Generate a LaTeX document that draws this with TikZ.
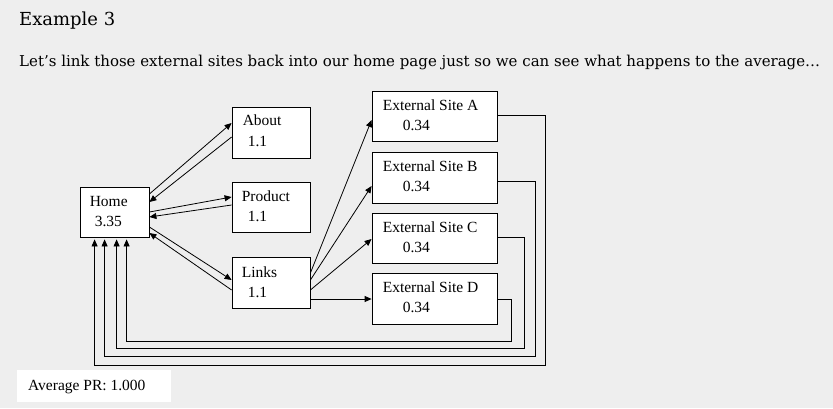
\documentclass[tikz,border=0pt]{standalone}
\usepackage{fontspec}
\setmainfont{Liberation Serif}
\newfontfamily\headfont{DejaVu Serif}
\usetikzlibrary{calc,arrows.meta}
\definecolor{bg}{RGB}{238,238,238}
\begin{document}
\begin{tikzpicture}[x=1pt,y=-1pt,
  box/.style={draw=black, line width=0.8pt, fill=white, inner sep=0pt, minimum width=78pt, minimum height=51pt},
  extbox/.style={box, minimum width=125pt},
  lbl/.style={anchor=base west, inner sep=0pt, font=\fontsize{15.5}{18}\selectfont},
  conn/.style={line width=0.8pt, -{Triangle[length=7pt,width=6pt]}},
  fb/.style={line width=0.8pt, -{Triangle[length=7pt,width=6pt]}, rounded corners=0pt}]
\fill[bg] (0,0) rectangle (833,408);
\useasboundingbox (0,0) rectangle (833,408);

% heading
\node[anchor=base west, inner sep=0pt] (title) at (19,25) {\resizebox{96pt}{!}{\headfont Example 3}};
\node[anchor=base west, inner sep=0pt] (sub) at (19,66) {\resizebox{801pt}{!}{\headfont Let’s link those external sites back into our home page just so we can see what happens to the average…}};

% boxes
\node[box, minimum width=69pt, minimum height=50pt] (home) at (114.5,212) {};
\node[box] (about) at (271,132.5) {};
\node[box, minimum height=50pt] (product) at (271,207) {};
\node[box] (links) at (271,282.5) {};
\node[extbox, minimum height=50pt] (A) at (434.5,116) {};
\node[extbox] (B) at (434.5,177.5) {};
\node[extbox, minimum height=50pt] (C) at (434.5,238) {};
\node[extbox] (D) at (434.5,298.5) {};

% labels
\node[lbl] (homet) at ($(home.north west)+(10,20)$) {Home};
\node[lbl] (homev) at ($(home.north west)+(15,40)$) {3.35};
\node[lbl] (aboutt) at ($(about.north west)+(11,19)$) {About};
\node[lbl] (aboutv) at ($(about.north west)+(16,40)$) {1.1};
\node[lbl] (productt) at ($(product.north west)+(10,20)$) {Product};
\node[lbl] (productv) at ($(product.north west)+(16,40)$) {1.1};
\node[lbl] (linkst) at ($(links.north west)+(10,21)$) {Links};
\node[lbl] (linksv) at ($(links.north west)+(16,41)$) {1.1};
\foreach \n/\l in {A/A,B/B,C/C,D/D}{
  \node[lbl] (\n t) at ($(\n.north west)+(11,19.5)$) {External Site \l};
  \node[lbl] (\n v) at ($(\n.north west)+(31,40)$) {0.34};
}

% home <-> internal pages
\draw[conn] ($(home.east)+(0,-18)$) -- ($(about.west)+(0,-9.5)$);
\draw[conn] ($(about.west)+(0,4.5)$) -- ($(home.east)+(0,-10)$);
\draw[conn] ($(home.east)+(0,0)$) -- ($(product.west)+(0,-10)$);
\draw[conn] ($(product.west)+(0,-2)$) -- ($(home.east)+(0,5)$);
\draw[conn] ($(home.east)+(0,15)$) -- ($(links.west)+(0,-2.5)$);
\draw[conn] ($(links.west)+(0,7.5)$) -- ($(home.east)+(0,21)$);

% links -> external
\draw[conn] ($(links.east)+(0,-9.5)$) -- ($(A.west)+(0,4)$);
\draw[conn] ($(links.east)+(0,-2.5)$) -- ($(B.west)+(0,8.5)$);
\draw[conn] ($(links.east)+(0,7.5)$) -- ($(C.west)+(0,1)$);
\draw[conn] ($(links.east)+(0,16.5)$) -- ($(D.west)+(0,0.5)$);

% external -> home
\draw[fb] ($(A.east)+(0,-1)$) -- ++(48,0) |- ($(home.south west)+(15,128)$) -- ($(home.south west)+(15,2)$);
\draw[fb] ($(B.east)+(0,3.5)$) -- ++(38,0) |- ($(home.south west)+(25,119)$) -- ($(home.south west)+(25,2)$);
\draw[fb] ($(C.east)+(0,-1)$) -- ++(27,0) |- ($(home.south west)+(37,111)$) -- ($(home.south west)+(37,2)$);
\draw[fb] ($(D.east)+(0,0.5)$) -- ++(14,0) |- ($(home.south west)+(47,104)$) -- ($(home.south west)+(47,2)$);

% average
\fill[white] (17,370) rectangle (171,402);
\node[lbl] (avg) at (28,390) {Average PR: 1.000};
\end{tikzpicture}
\end{document}
